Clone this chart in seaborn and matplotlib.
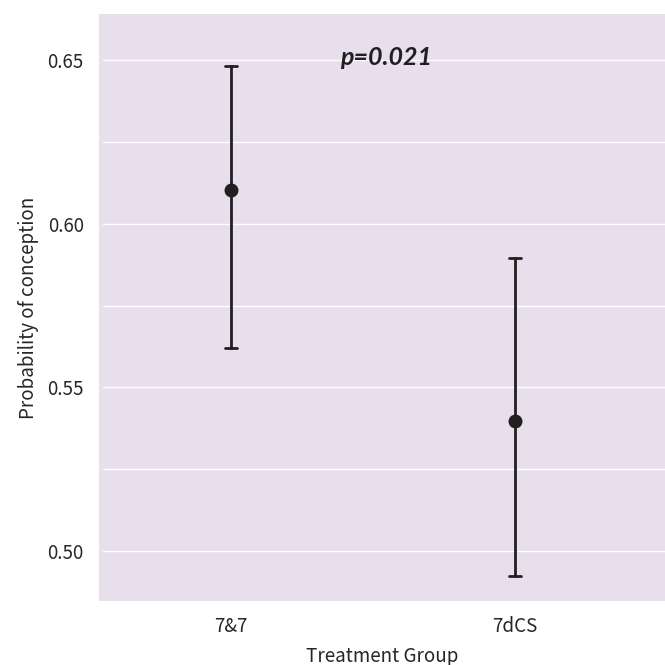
import numpy as np
import pandas as pd
import matplotlib
matplotlib.use("Agg")
import matplotlib.pyplot as plt
import seaborn as sns

groups = ["7&7", "7dCS"]
means = [0.6104, 0.5399]
ci_low = [0.5619, 0.4924]
ci_high = [0.6482, 0.5896]
p_text = "p=0.021"

# long table: low / mean / high per group, median picks the mean, min-max gives the CI
rows = []
for g, lo, m, hi in zip(groups, ci_low, means, ci_high):
    for v in (lo, m, hi):
        rows.append({"Treatment Group": g, "Probability of conception": v})
df = pd.DataFrame(rows)

sns.set_theme(style="darkgrid")
plt.rcParams["font.family"] = ["Noto Sans CJK JP", "DejaVu Sans"]

fig = plt.figure(figsize=(6.65, 6.65), dpi=100)
ax = fig.add_axes([99 / 665, 1 - 601 / 665, 566 / 665, 587 / 665])
ax.set_facecolor("#e7dfec")
ax.grid(False)

ink = "#231f20"
sns.pointplot(data=df, x="Treatment Group", y="Probability of conception",
              estimator=np.median, errorbar=lambda v: (v.min(), v.max()),
              linestyle="none", color=ink, capsize=0.045, markersize=8,
              err_kws={"linewidth": 2.0}, ax=ax, zorder=3)

ax.set_xlim(-0.465, 1.528)
ax.set_ylim(0.4848, 0.664)
ax.set_yticks([0.50, 0.55, 0.60, 0.65])
for y in np.arange(0.475, 0.676, 0.025):
    ax.axhline(y, xmin=4 / 566, xmax=1, color="white", linewidth=1.0, zorder=1)
for s in ax.spines.values():
    s.set_visible(False)
ax.tick_params(axis="both", length=0, labelsize=13.5)
ax.tick_params(axis="y", pad=11)
ax.tick_params(axis="x", pad=11)
ax.set_xlabel("Treatment Group", fontsize=13.5, labelpad=6)
ax.set_ylabel("Probability of conception", fontsize=13.5, labelpad=6)

ax.text(0.545, 0.6485, p_text, ha="center", va="baseline", fontsize=18,
        fontweight="bold", fontstyle="italic", family=["Lato", "DejaVu Sans"],
        color=ink)

fig.savefig("out.png", dpi=100)
